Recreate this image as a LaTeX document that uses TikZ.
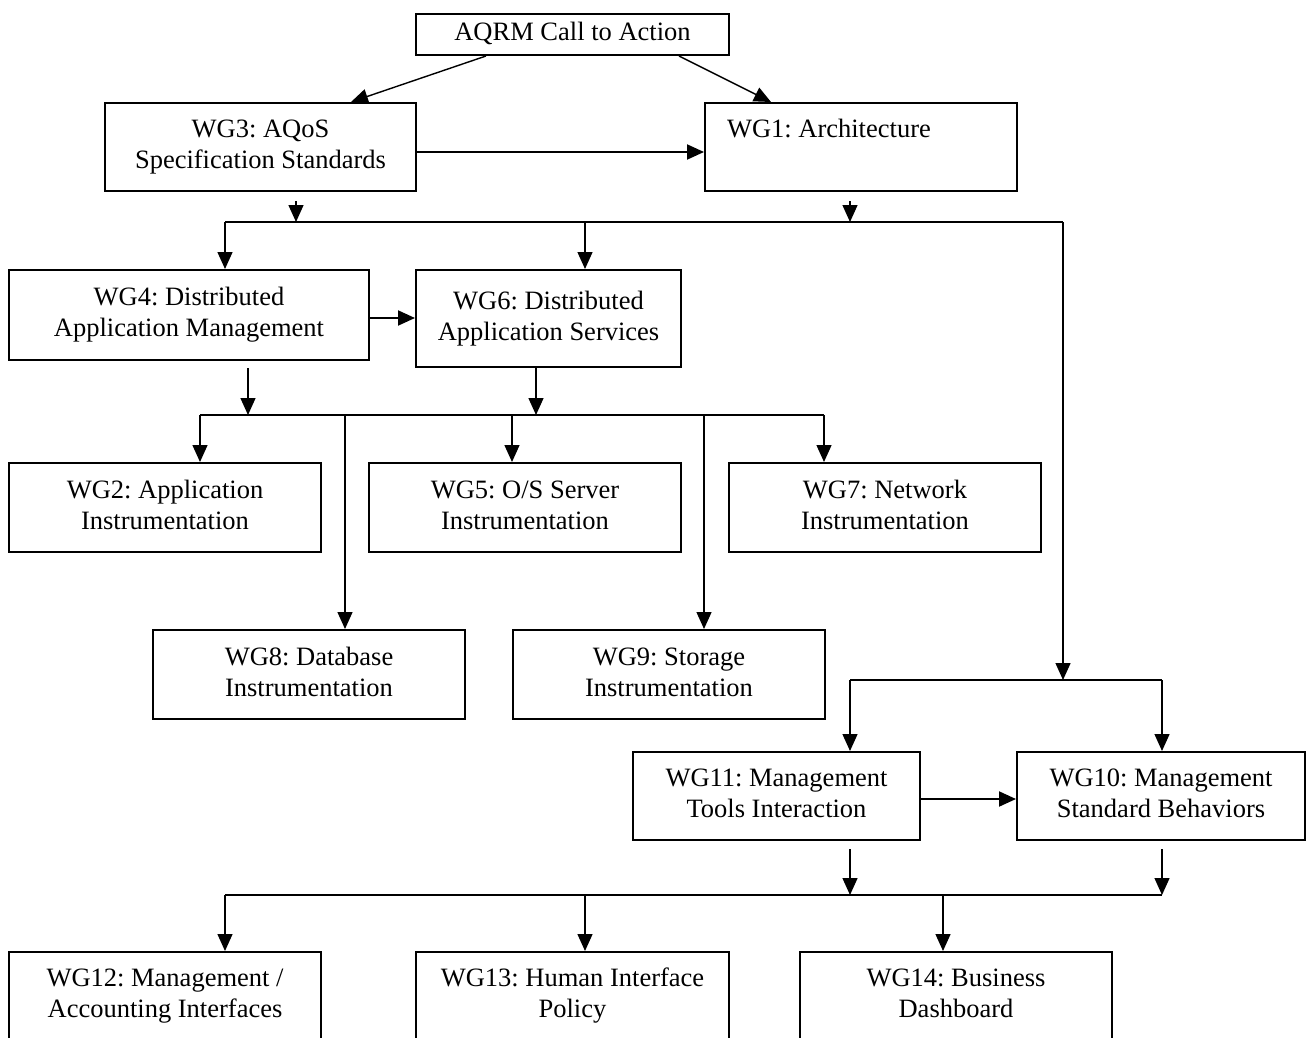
\documentclass[tikz,border=0pt]{standalone}
\usepackage{fontspec}
\setmainfont{Liberation Serif}
\usetikzlibrary{arrows.meta,calc}
\newcommand\lst{\strut}
\begin{document}
\frenchspacing
\begin{tikzpicture}[x=1pt,y=-1pt,
  box/.style={draw,line width=2pt,rectangle,inner sep=0pt,align=center,
    font=\fontsize{26.5}{31}\selectfont\frenchspacing},
  ln/.style={line width=1.8pt},
  arr/.style={line width=1.4pt,-{Triangle[length=17pt,width=15pt]}},
  harr/.style={line width=2pt,-{Triangle[length=17pt,width=15pt]}}]
\useasboundingbox (0,0) rectangle (1311,1038);
\clip (0,0) rectangle (1311,1038);
% boxes
\node[box,minimum width=313pt,minimum height=41pt] (aqrm) at (572.5,34.5) {\lst AQRM Call to Action};
\node[box,minimum width=311pt,minimum height=88pt] (wg3) at (260.5,147) {\lst WG3: AQoS\\Specification Standards\lst};
\node[box,minimum width=312pt,minimum height=88pt] (wg1) at (861,147) {\lst\makebox[268pt][l]{WG1: Architecture}\\\lst};
\node[box,minimum width=360pt,minimum height=90pt] (wg4) at (189,315) {\lst WG4: Distributed\\Application Management\lst};
\node[box,minimum width=265pt,minimum height=97pt] (wg6) at (548.5,318.5) {\lst WG6: Distributed\\Application Services\lst};
\node[box,minimum width=312pt,minimum height=89pt] (wg2) at (165,507.5) {\lst WG2: Application\\Instrumentation\lst};
\node[box,minimum width=312pt,minimum height=89pt] (wg5) at (525,507.5) {\lst WG5: O/S Server\\Instrumentation\lst};
\node[box,minimum width=312pt,minimum height=89pt] (wg7) at (885,507.5) {\lst WG7: Network\\Instrumentation\lst};
\node[box,minimum width=312pt,minimum height=89pt] (wg8) at (309,674.5) {\lst WG8: Database\\Instrumentation\lst};
\node[box,minimum width=312pt,minimum height=89pt] (wg9) at (669,674.5) {\lst WG9: Storage\\Instrumentation\lst};
\node[box,minimum width=287pt,minimum height=88pt] (wg11) at (776.5,796) {\lst WG11: Management\\Tools Interaction\lst};
\node[box,minimum width=288pt,minimum height=88pt] (wg10) at (1161,796) {\lst WG10: Management\\Standard Behaviors\lst};
\node[box,minimum width=312pt,minimum height=88pt] (wg12) at (165,996) {\lst WG12: Management /\\Accounting Interfaces\lst};
\node[box,minimum width=313pt,minimum height=88pt] (wg13) at (572.5,996) {\lst WG13: Human Interface\\Policy\lst};
\node[box,minimum width=312pt,minimum height=88pt] (wg14) at (956,996) {\lst WG14: Business\\Dashboard\lst};
% bus coordinates
\coordinate (b1L) at (225,222);
\coordinate (b1R) at (1063,222);
\coordinate (b1a) at (296,222);
\coordinate (b1b) at (850,222);
\coordinate (b1c) at (585,222);
\coordinate (b2L) at (850,680);
\coordinate (b2R) at (1162,680);
\coordinate (b2a) at (1063,680);
\coordinate (b3L) at (200,415);
\coordinate (b3R) at (824,415);
\coordinate (b3a) at (248,415);
\coordinate (b3b) at (536,415);
\coordinate (b3c) at (345,415);
\coordinate (b3d) at (512,415);
\coordinate (b3e) at (704,415);
\coordinate (b4L) at (225,895);
\coordinate (b4R) at (1162,895);
\coordinate (b4a) at (850,895);
\coordinate (b4b) at (585,895);
\coordinate (b4c) at (943,895);
% top
\draw[arr] ($(aqrm.south west)+(71,0)$) -- ($(wg3.north west)+(247,0)$);
\draw[arr] ($(aqrm.south west)+(264,0)$) -- ($(wg1.north west)+(67,0)$);
\draw[harr] ($(wg3.east)+(0,5)$) -- ($(wg1.west)+(0,5)$);
\draw[arr] ($(wg3.south)+(35.5,9)$) -- (b1a);
\draw[arr] ($(wg1.south)+(-11,9)$) -- (b1b);
\draw[ln] (b1L) -- (b1R);
\draw[arr] (b1L) -- (b1L |- wg4.north);
\draw[arr] (b1c) -- (b1c |- wg6.north);
\draw[arr] (b1R) -- (b2a);
% middle
\draw[harr] ($(wg4.east)+(0,3)$) -- (wg6.west |- {$(wg4.east)+(0,3)$});
\draw[arr] ($(wg4.south)+(59,7)$) -- (b3a);
\draw[arr] (wg6.south -| b3b) -- (b3b);
\draw[ln] (b3L) -- (b3R);
\draw[arr] (b3L) -- (b3L |- wg2.north);
\draw[arr] (b3c) -- (b3c |- wg8.north);
\draw[arr] (b3d) -- (b3d |- wg5.north);
\draw[arr] (b3e) -- (b3e |- wg9.north);
\draw[arr] (b3R) -- (b3R |- wg7.north);
% lower right
\draw[ln] (b2L) -- (b2R);
\draw[arr] (b2L) -- (b2L |- wg11.north);
\draw[arr] (b2R) -- (b2R |- wg10.north);
\draw[harr] ($(wg11.east)+(0,3)$) -- ($(wg10.west)+(0,3)$);
\draw[arr] ($(wg11.south)+(73.5,8)$) -- (b4a);
\draw[arr] ($(wg10.south)+(1,8)$) -- (b4R);
\draw[ln] (b4L) -- (b4R);
\draw[arr] (b4L) -- (b4L |- wg12.north);
\draw[arr] (b4b) -- (b4b |- wg13.north);
\draw[arr] (b4c) -- (b4c |- wg14.north);
\end{tikzpicture}
\end{document}
